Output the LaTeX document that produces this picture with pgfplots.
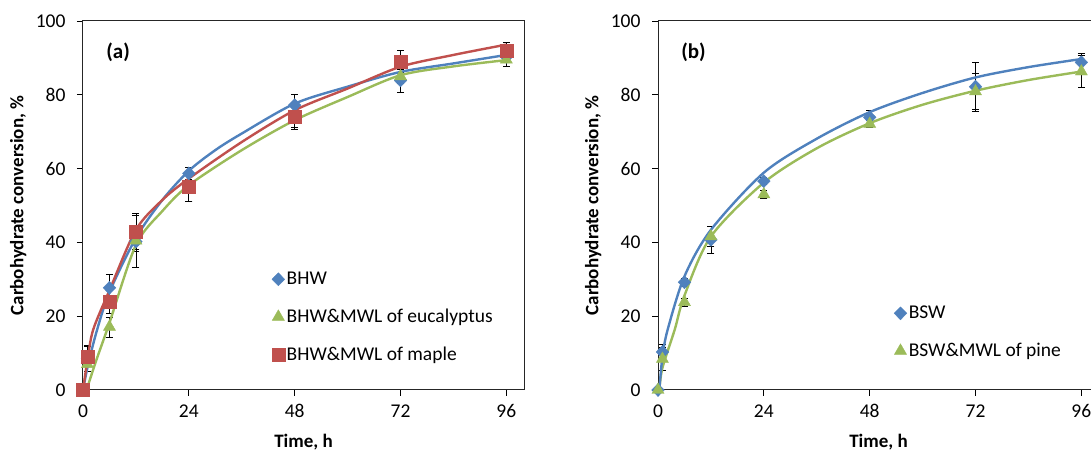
\documentclass[border=0pt]{standalone}
\usepackage{pgfplots}
\pgfplotsset{compat=1.18}
\usepackage{fontspec}
\setmainfont{Carlito}

\definecolor{cblue}{HTML}{4F81BD}
\definecolor{cred}{HTML}{C0504D}
\definecolor{cgreen}{HTML}{9BBB59}

\pgfplotsset{
  kin/.style={
    scale only axis, width=441pt, height=369pt,
    xmin=0, xmax=100, ymin=0, ymax=100,
    xtick={0,24,48,72,96}, ytick={0,20,40,60,80,100},
    xtick pos=bottom, ytick pos=left,
    tick align=outside, major tick length=6pt,
    tick style={black, line width=0.8pt},
    axis line style={black!85, line width=1pt},
    clip=false,
    /pgf/number format/assume math mode=true,
    tick label style={font=\fontsize{19.5}{21}\selectfont},
    yticklabel style={xshift=-8pt},
    xticklabel style={yshift=-5pt},
    xlabel={\bfseries Time, h},
    ylabel={\bfseries Carbohydrate conversion, \%},
    label style={font=\fontsize{19}{21}\selectfont},
    xlabel style={at={(axis description cs:0.5,-0.141)}, anchor=center},
    ylabel style={at={(axis description cs:-0.147,0.5)}, anchor=center, rotate=0},
    legend style={draw=none, fill=none, font=\fontsize{19.5}{21}\selectfont,
      row sep=19pt, inner sep=0pt},
    legend cell align=left,
  },
  pts/.style={only marks, mark=#1,
    legend image code/.code={\draw[##1] plot coordinates {(0.18cm,0cm)};},
    /pgfplots/error bars/y dir=both, /pgfplots/error bars/y explicit,
    /pgfplots/error bars/error bar style={black, line width=0.7pt},
    /pgfplots/error bars/error mark options={black, rotate=90, mark size=3.5pt, line width=0.7pt}},
  fit/.style={smooth, no marks, line width=2.4pt, forget plot},
}

\begin{document}
\begin{tikzpicture}
% (a) hardwood
\begin{axis}[kin, name=a,
  legend style={at={(axis description cs:0.428,0.325)}, anchor=north west}]
  \addplot[pts=diamond*, cblue, mark size=6.5pt, mark options={fill=cblue, xscale=1.3}]
    coordinates {(0,0) +- (0,0) (1,8.5) +- (0,3.5) (6,27.7) +- (0,3.7) (12,40.2) +- (0,7)
      (24,58.7) +- (0,1.6) (48,77.2) +- (0,2.8) (72,83.9) +- (0,3.3) (96,90.3) +- (0,1.5)};
  \addlegendentry{BHW}
  \addplot[pts=triangle*, cgreen, mark size=7pt, mark options={fill=cgreen}]
    coordinates {(0,0) +- (0,0) (1,7) +- (0,2) (6,17.1) +- (0,2.7) (12,40.5) +- (0,3)
      (24,55) +- (0,4) (48,73.1) +- (0,2) (72,85) +- (0,2) (96,89.5) +- (0,1.7)};
  \addlegendentry{BHW\&MWL of eucalyptus}
  \addplot[pts=square*, cred, mark size=6.4pt, mark options={fill=cred}]
    coordinates {(0,0) +- (0,0) (1,9) +- (0,2.7) (6,23.9) +- (0,3) (12,43) +- (0,4.8)
      (24,55) +- (0,4) (48,74) +- (0,3.4) (72,89) +- (0,3) (96,92) +- (0,2.1)};
  \addlegendentry{BHW\&MWL of maple}
  \addplot[fit, cgreen] coordinates {(0.8,0) (3,8) (6,18.2) (12,39.3) (18,48.5) (24,55.5)
    (36,65) (48,73.1) (60,79.4) (72,85.3) (84,87.7) (96,89.4)};
  \addplot[fit, cblue] coordinates {(0,0) (1,6) (3,15.5) (6,26.5) (12,41.2) (18,51.5)
    (24,59.4) (30,65) (36,69.5) (48,77.6) (60,82.2) (72,86.2) (84,88.5) (96,90.8)};
  \addplot[fit, cred] coordinates {(0,0) (1,8) (2.3,16.3) (6,27) (12,43.4) (18,51.5)
    (24,57.3) (36,67.2) (48,75.8) (60,81.7) (72,87.6) (84,90.8) (96,93.6)};
  \node[font=\fontsize{21}{23}\selectfont\bfseries, anchor=west]
    at (axis description cs:0.045,0.916) {(a)};
\end{axis}
% (b) softwood
\begin{axis}[kin, name=b, at={(575pt,0pt)},
  legend style={at={(axis description cs:0.535,0.233)}, anchor=north west}]
  \addplot[pts=diamond*, cblue, mark size=6.5pt, mark options={fill=cblue, xscale=1.3}]
    coordinates {(0,0) +- (0,0) (1,10.3) +- (0,2) (6,29.2) +- (0,1) (12,40.7) +- (0,3.6)
      (24,56.6) +- (0,1) (48,73.9) +- (0,2) (72,82.2) +- (0,6.6) (96,88.8) +- (0,2.4)};
  \addlegendentry{BSW}
  \addplot[pts=triangle*, cgreen, mark size=7pt, mark options={fill=cgreen}]
    coordinates {(0,0) +- (0,0) (1,8.4) +- (0,3.2) (6,23.8) +- (0,1) (12,41.6) +- (0,2.7)
      (24,53) +- (0,1) (48,72.1) +- (0,1) (72,80.9) +- (0,4.9) (96,86.3) +- (0,4.3)};
  \addlegendentry{BSW\&MWL of pine}
  \addplot[fit, cgreen] coordinates {(0.3,0) (1,6) (3.8,16.4) (6,25.6) (12,41.6) (24,56.2)
    (36,65.5) (48,72.3) (60,77.3) (72,81.1) (84,84) (96,86.3)};
  \addplot[fit, cblue] coordinates {(0.3,0) (1,9) (2.2,16.4) (6,30.8) (12,43.4) (24,58.9)
    (36,68.1) (48,75.3) (60,80.5) (72,84.7) (84,87.5) (96,89.7)};
  \node[font=\fontsize{21}{23}\selectfont\bfseries, anchor=west]
    at (axis description cs:0.045,0.916) {(b)};
\end{axis}
\pgfresetboundingbox
\useasboundingbox (-83pt,-64pt) rectangle (1008pt,390pt);
\end{tikzpicture}
\end{document}
